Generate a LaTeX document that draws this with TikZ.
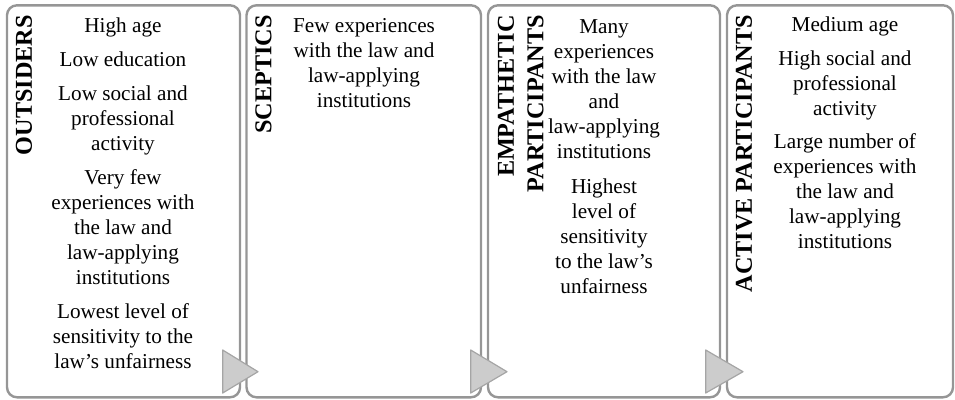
\documentclass[tikz,border=0pt]{standalone}
\usepackage{fontspec}
\setmainfont{Liberation Serif}
\definecolor{bord}{RGB}{150,150,150}
\definecolor{trifill}{RGB}{204,204,204}
\definecolor{triline}{RGB}{165,165,165}
\begin{document}
\begin{tikzpicture}[x=1pt,y=-1pt,
  panel/.style={draw=bord, line width=2.4pt, rounded corners=10pt},
  tri/.style={fill=trifill, draw=triline, line width=1.2pt, line join=round},
  ttl/.style={rotate=90, anchor=east, inner sep=0pt, font=\fontsize{24.2}{28}\selectfont\bfseries},
  body/.style={anchor=base, align=center, inner sep=0pt, font=\fontsize{21.2}{25}\selectfont},
]
\path[use as bounding box] (0,0) rectangle (955,399);
% panels
\draw[panel] (7,5.3) rectangle (240,397.3);
\draw[panel] (246.5,5.3) rectangle (481,397.3);
\draw[panel] (488,5.3) rectangle (720,397.3);
\draw[panel] (727,5.3) rectangle (953,397.3);
% arrows between panels
\draw[tri] (222.7,350) -- (258,371.7) -- (222.7,393) -- cycle;
\draw[tri] (470.7,350) -- (507,371.7) -- (470.7,393) -- cycle;
\draw[tri] (705.7,350) -- (743,371.7) -- (705.7,393) -- cycle;
% titles
\node[ttl] (t1) at (24,15) {OUTSIDERS};
\node[ttl] (t2) at (263.5,15) {SCEPTICS};
\node[ttl] (t3a) at (506,15) {EMPATHETIC};
\node[ttl] (t3b) at (535.5,15) {PARTICIPANTS};
\node[ttl] (t4) at (744,15) {ACTIVE PARTICIPANTS};
% bodies (anchor base = baseline of last line)
\node[body] (b1) at (123,368) {High age\\[9pt]
  Low education\\[9pt]
  Low social and\\ professional\\ activity\\[9pt]
  Very few\\ experiences with\\ the law and\\ law-applying\\ institutions\\[9pt]
  Lowest level of\\ sensitivity to the\\ law’s unfairness};
\node[body] (b2) at (364,107) {Few experiences\\ with the law and\\ law-applying\\ institutions};
\node[body] (b3) at (604,293) {Many\\ experiences\\ with the law\\ and\\ law-applying\\ institutions\\[10pt]
  Highest\\ level of\\ sensitivity\\ to the law’s\\ unfairness};
\node[body] (b4) at (845,248) {Medium age\\[9pt]
  High social and\\ professional\\ activity\\[8pt]
  Large number of\\ experiences with\\ the law and\\ law-applying\\ institutions};
\end{tikzpicture}
\end{document}
